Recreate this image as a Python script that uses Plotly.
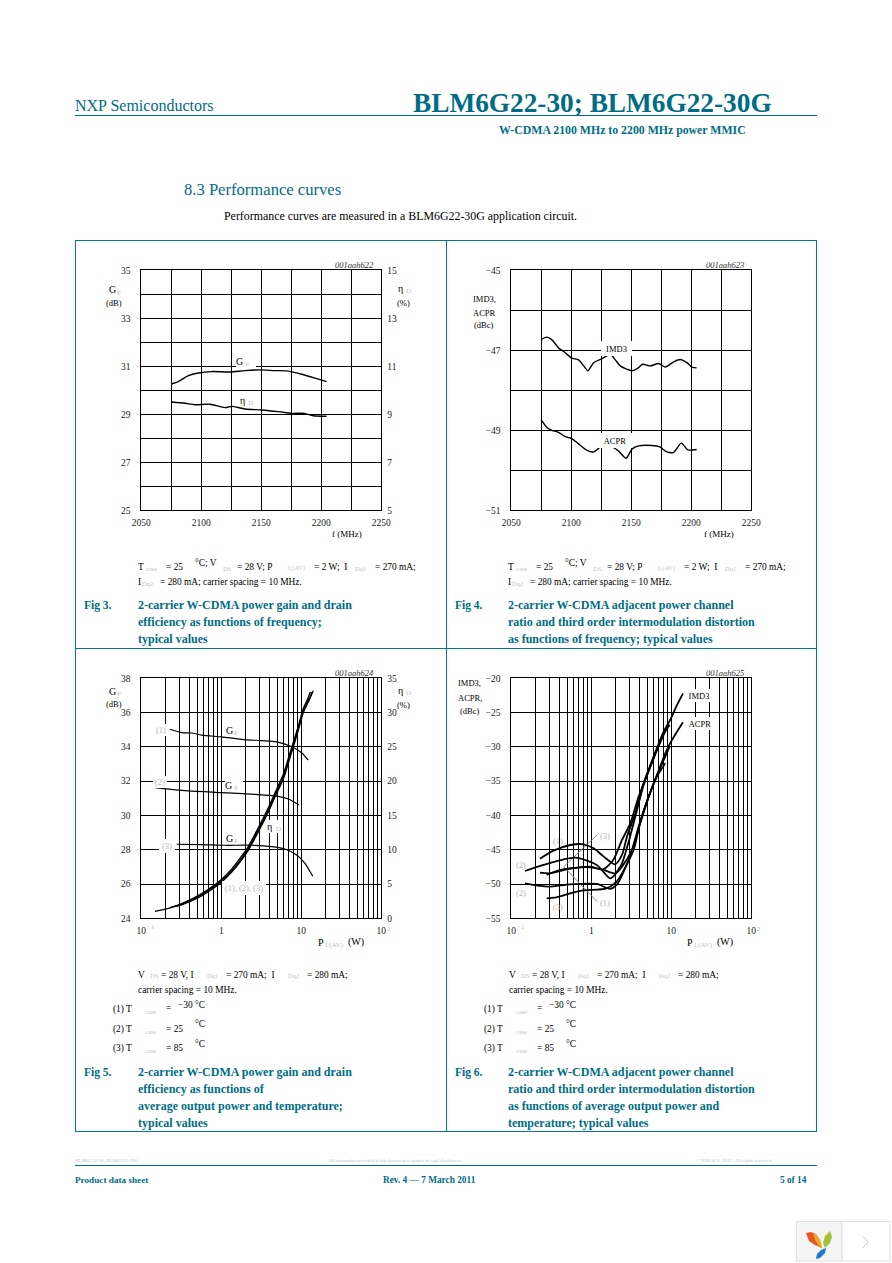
import plotly.graph_objects as go

W, H = 892, 1263
TEAL = "#006d85"
FRAME = "#007a93"
FAINT = "#c4c4c4"
SERIF = "Liberation Serif"

# ---------- Fig 3 ----------
f3_x = [2075, 2080.8, 2089.2, 2097.5, 2108.6, 2123.9, 2136.4, 2148.9, 2161.4, 2171.1, 2183.6, 2194.7, 2204.4]
f3_gain = [30.26, 30.36, 30.61, 30.72, 30.78, 30.76, 30.82, 30.85, 30.82, 30.81, 30.67, 30.51, 30.36]
f3_eta_x = [2075, 2086.4, 2094.7, 2107.2, 2119.7, 2125.3, 2136.4, 2150.3, 2164.2, 2175.3, 2185.8, 2193.3, 2204.4]
f3_eta = [9.51, 9.46, 9.40, 9.42, 9.28, 9.33, 9.22, 9.18, 9.11, 9.04, 9.04, 8.94, 8.92]

# ---------- Fig 4 ----------
f4_imd_x = [2075, 2079.7, 2083.9, 2089.4, 2095, 2100, 2106.1, 2110.3, 2113.9, 2118.6, 2125.6, 2132.5, 2136.7,
            2140.8, 2150.6, 2155.3, 2159.4, 2165.8, 2172.8, 2178.3, 2185.3, 2190.8, 2196.4, 2200.6, 2204.4]
f4_imd = [-46.73, -46.67, -46.74, -46.94, -47.06, -47.19, -47.24, -47.39, -47.51, -47.31, -47.21, -47.10, -47.24,
          -47.39, -47.51, -47.45, -47.35, -47.39, -47.33, -47.42, -47.29, -47.23, -47.31, -47.42, -47.44]
f4_acpr_x = [2075, 2079.7, 2083.9, 2089.4, 2095, 2100, 2106.1, 2113, 2118.6, 2125.6, 2132.5, 2139.4, 2145.6,
             2150.6, 2156.1, 2167.2, 2173.3, 2179.7, 2185.3, 2191.7, 2197, 2204.4]
f4_acpr = [-48.74, -48.93, -49.0, -49.05, -49.16, -49.2, -49.34, -49.5, -49.54, -49.39, -49.39, -49.52, -49.7,
           -49.47, -49.39, -49.38, -49.41, -49.54, -49.55, -49.32, -49.49, -49.48]

# ---------- Fig 5 ----------
f5_g1_x = [0.228, 0.319, 0.426, 0.567, 1.01, 1.79, 3.19, 4.92, 7.57, 10.1, 12.2]
f5_g1 = [35.03, 34.83, 34.81, 34.69, 34.58, 34.44, 34.36, 34.29, 34.01, 33.66, 33.22]
f5_g2_x = [0.148, 0.218, 0.387, 1.01, 2.63, 4.69, 6.88, 9.35]
f5_g2 = [31.62, 31.53, 31.43, 31.33, 31.23, 31.14, 30.96, 30.61]
f5_g3_x = [0.277, 0.567, 1.11, 2.39, 4.26, 6.25, 8.75, 11.1, 13.9]
f5_g3 = [28.32, 28.30, 28.26, 28.26, 28.18, 28.04, 27.69, 27.21, 26.45]
f5_e1_x = [0.228, 0.319, 0.516, 0.757, 1.01, 1.35, 1.79, 2.18, 2.90, 3.87, 4.69, 5.96, 7.57, 9.17, 10.6, 12.0, 13.0]
f5_e1 = [1.55, 2.15, 3.3, 4.55, 5.7, 7.2, 9.05, 10.5, 13.2, 16.1, 18.3, 21.0, 24.9, 28.0, 30.6, 32.0, 33.0]
f5_e2_x = [0.148, 0.218, 0.319, 0.516, 0.757, 1.01, 1.35, 1.79, 2.18, 2.90, 3.87, 4.69, 5.96, 7.57, 9.17, 10.6, 12.2, 13.7]
f5_e2 = [1.02, 1.46, 2.04, 3.16, 4.37, 5.49, 6.95, 8.75, 10.2, 12.88, 15.8, 17.99, 20.66, 24.55, 27.71, 30.38, 31.74, 33.0]
f5_e3_x = [0.277, 0.319, 0.516, 0.757, 1.01, 1.35, 1.79, 2.18, 2.90, 3.87, 4.69, 5.96, 7.57, 9.17, 10.6, 12.2, 14.1]
f5_e3 = [1.75, 1.95, 3.0, 4.2, 5.3, 6.75, 8.5, 9.95, 12.6, 15.5, 17.7, 20.3, 24.2, 27.4, 30.0, 31.5, 33.2]

# ---------- Fig 6 ----------
f6_imd1_x = [0.228, 0.338, 0.546, 0.794, 1.07, 1.43, 1.98, 2.42, 2.79, 3.55, 4.51, 6.01, 8.02, 9.91, 11.8, 14.0]
f6_imd1 = [-46.30, -45.13, -44.31, -44.21, -44.79, -46.01, -47.13, -45.76, -43.09, -39.69, -35.31, -31.42, -27.78, -25.83, -23.89, -22.19]
f6_imd2_x = [0.148, 0.251, 0.625, 1.17, 1.71, 1.88, 2.42, 2.93, 3.55, 4.51, 6.01, 8.02, 9.27]
f6_imd2 = [-48.10, -47.22, -46.15, -47.22, -49.17, -48.93, -46.98, -43.82, -40.17, -35.56, -31.67, -28.12, -26.56]
f6_imd3_x = [0.228, 0.304, 0.492, 0.961, 1.41, 1.88, 2.42, 3.07, 3.91, 4.96, 6.62, 8.41, 9.53]
f6_imd3 = [-48.34, -48.44, -47.85, -47.47, -47.85, -46.49, -43.58, -41.15, -37.26, -34.10, -30.45, -27.78, -26.8]
f6_acpr1_x = [0.277, 0.410, 0.73, 0.97, 1.43, 2.0, 2.42, 3.22, 4.10, 5.21, 6.62, 8.41, 9.53]
f6_acpr1 = [-48.68, -47.95, -47.56, -47.56, -47.95, -48.44, -47.47, -45.03, -41.15, -37.26, -34.10, -31.42, -29.96]
f6_acpr2_x = [0.148, 0.290, 0.541, 1.17, 1.71, 2.07, 3.04, 3.91, 4.96, 6.62, 8.41]
f6_acpr2 = [-49.90, -50.38, -50.04, -49.99, -50.72, -50.14, -46.01, -41.63, -37.99, -34.34, -32.40]
f6_acpr3_x = [0.277, 0.352, 0.721, 1.55, 2.07, 3.38, 4.10, 5.21, 6.62, 8.41, 9.91, 11.8, 14.0]
f6_acpr3 = [-52.08, -51.99, -51.01, -50.63, -49.65, -45.03, -40.90, -37.26, -34.10, -30.94, -29.24, -27.78, -26.42]
f6_lead_x = [1.18, 0.451, 1.18]
f6_lead = [-42.85, -47.47, -52.57]

# ---------- Axis ticks ----------
freq_ticks = [2050, 2100, 2150, 2200, 2250]
freq_text = ["2050", "2100", "2150", "2200", "2250"]
freq_minor = [2075, 2125, 2175, 2225]
gain3_ticks = [25, 27, 29, 31, 33, 35]
gain3_text = ["25", "27", "29", "31", "33", "35"]
gain3_minor = [26, 28, 30, 32, 34]
eta3_ticks = [5, 7, 9, 11, 13, 15]
eta3_text = ["5", "7", "9", "11", "13", "15"]
dist4_ticks = [-51, -49, -47, -45]
dist4_text = ["−51", "−49", "−47", "−45"]
dist4_minor = [-50, -48, -46]
log_ticks = [0.1, 1, 10, 100]
log_text = ["10", "1", "10", "10"]
log_minor = [0.2, 0.3, 0.4, 0.5, 0.6, 0.7, 0.8, 0.9, 2, 3, 4, 5, 6, 7, 8, 9, 20, 30, 40, 50, 60, 70, 80, 90]
gain5_ticks = [24, 26, 28, 30, 32, 34, 36, 38]
gain5_text = ["24", "26", "28", "30", "32", "34", "36", "38"]
eta5_ticks = [0, 5, 10, 15, 20, 25, 30, 35]
eta5_text = ["0", "5", "10", "15", "20", "25", "30", "35"]
dist6_ticks = [-55, -50, -45, -40, -35, -30, -25, -20]
dist6_text = ["−55", "−50", "−45", "−40", "−35", "−30", "−25", "−20"]

fig = go.Figure()


def curve(x, y, xa, ya, width=1.4, color="black", spline=True):
    line = dict(color=color, width=width)
    if spline:
        line.update(shape="spline", smoothing=0.7)
    fig.add_trace(go.Scatter(x=x, y=y, xaxis=xa, yaxis=ya, mode="lines", line=line,
                             hoverinfo="skip", showlegend=False))


curve(f3_x, f3_gain, "x", "y")
curve(f3_eta_x, f3_eta, "x", "y2")
curve(f4_imd_x, f4_imd, "x2", "y3")
curve(f4_acpr_x, f4_acpr, "x2", "y3")
for a, b in [(f5_g1_x, f5_g1), (f5_g2_x, f5_g2), (f5_g3_x, f5_g3)]:
    curve(a, b, "x3", "y4", 1.2)
for a, b in [(f5_e1_x, f5_e1), (f5_e2_x, f5_e2), (f5_e3_x, f5_e3)]:
    curve(a, b, "x3", "y5", 1.3)
curve(f6_lead_x, f6_lead, "x4", "y6", 1, "#8a8a8a", False)
for a, b in [(f6_imd1_x, f6_imd1), (f6_imd2_x, f6_imd2), (f6_imd3_x, f6_imd3),
             (f6_acpr1_x, f6_acpr1), (f6_acpr2_x, f6_acpr2), (f6_acpr3_x, f6_acpr3)]:
    curve(a, b, "x4", "y6", 1.8)


def dx(l):
    return [l / W, (l + 240) / W]


def dy(t):
    return [1 - (t + 240) / H, 1 - t / H]


TF = dict(family=SERIF, size=9.5, color="#222")
base = dict(showgrid=True, gridcolor="black", gridwidth=1, zeroline=False, showline=True, linecolor="black",
            linewidth=1, mirror=True, ticks="", ticklen=0, tickfont=TF, tickmode="array", tickangle=0,
            automargin=False)


def minor(vals):
    return dict(tickmode="array", tickvals=vals, showgrid=True, gridcolor="black", gridwidth=1, griddash="solid",
                ticks="", ticklen=0)


def xax(left, vals, text, anchor, mn=None, **kw):
    d = dict(base, domain=dx(left), anchor=anchor, tickvals=vals, ticktext=text, ticklabelstandoff=3, **kw)
    if mn:
        d["minor"] = minor(mn)
    return d


def yax(top, vals, text, anchor, mn=None, **kw):
    d = dict(base, domain=dy(top), anchor=anchor, tickvals=vals, ticktext=text, ticklabelstandoff=8, **kw)
    if mn:
        d["minor"] = minor(mn)
    return d


def rax(top, vals, text, anchor, over, rng):
    return dict(domain=dy(top), anchor=anchor, overlaying=over, side="right", range=rng, showgrid=False,
                zeroline=False, showline=False, ticks="", ticklen=0, tickfont=TF, tickmode="array",
                tickvals=vals, ticktext=text, ticklabelstandoff=5, automargin=False)


LX, RX, TT, BT = 141.3, 511.3, 270.3, 678.3
layout_axes = dict(
    xaxis=xax(LX, freq_ticks, freq_text, "y", freq_minor, range=[2050, 2250]),
    yaxis=yax(TT, gain3_ticks, gain3_text, "x", gain3_minor, range=[25, 35]),
    yaxis2=rax(TT, eta3_ticks, eta3_text, "x", "y", [5, 15]),
    xaxis2=xax(RX, freq_ticks, freq_text, "y3", freq_minor, range=[2050, 2250]),
    yaxis3=yax(TT, dist4_ticks, dist4_text, "x2", dist4_minor, range=[-51, -45]),
    xaxis3=xax(LX, log_ticks, log_text, "y4", log_minor, type="log", range=[-1, 2]),
    yaxis4=yax(BT, gain5_ticks, gain5_text, "x3", range=[24, 38]),
    yaxis5=rax(BT, eta5_ticks, eta5_text, "x3", "y4", [0, 35]),
    xaxis4=xax(RX, log_ticks, log_text, "y6", log_minor, type="log", range=[-1, 2]),
    yaxis6=yax(BT, dist6_ticks, dist6_text, "x4", range=[-55, -20]),
)

ann = []
shapes = []


def txt(x, y, s, size=10, color="black", bold=False, anchor="left", italic=False, box=None, align=None):
    if bold:
        s = "<b>" + s + "</b>"
    if italic:
        s = "<i>" + s + "</i>"
    d = dict(xref="paper", yref="paper", x=x / W, y=1 - y / H, text=s, showarrow=False, xanchor=anchor,
             yanchor="middle", align=anchor, borderpad=0, borderwidth=0,
             font=dict(family=SERIF, size=size, color=color))
    if box:
        d.update(width=box[0], height=box[1], bgcolor="white", xanchor="center", align=align or "center")
    ann.append(d)


def sym(x, y, main, sub, box=None):
    """Symbol with a faint subscript; x is the left edge of the symbol."""
    if box:
        txt(x - 1 + box[0] / 2, y, main, 10, box=box, align="left")
    else:
        txt(x, y, main, 10)
    txt(x + 8, y + 3, sub, 7, FAINT)


def rule(x0, y0, x1, y1, color=FRAME, w=1):
    shapes.append(dict(type="line", xref="paper", yref="paper", x0=x0 / W, x1=x1 / W, y0=1 - y0 / H, y1=1 - y1 / H,
                       line=dict(color=color, width=w), layer="below"))


# page furniture
txt(75, 105, "NXP Semiconductors", 16, TEAL)
txt(413, 103, "BLM6G22-30; BLM6G22-30G", 27.3, TEAL, True)
txt(746, 130, "W-CDMA 2100 MHz to 2200 MHz power MMIC", 11.8, TEAL, True, anchor="right")
txt(184, 190, "8.3 Performance curves", 16.6, TEAL)
txt(224, 216, "Performance curves are measured in a BLM6G22-30G application circuit.", 11.9)
rule(75, 115.5, 817, 115.5, TEAL)
rule(75, 240.5, 817, 240.5)
rule(75, 1131.5, 817, 1131.5)
rule(75.5, 240, 75.5, 1132)
rule(816.5, 240, 816.5, 1132)
rule(446.5, 240, 446.5, 1132)
rule(75, 648.5, 817, 648.5)
rule(75, 1165.5, 817, 1165.5, TEAL)
txt(75, 1160, "BLM6G22-30_BLM6G22-30G", 5, FAINT)
txt(328, 1160, "All information provided in this document is subject to legal disclaimers.", 4.6, FAINT)
txt(696, 1160, "© NXP B.V. 2011. All rights reserved.", 5, FAINT)
txt(75, 1180, "Product data sheet", 9.2, TEAL, True)
txt(383, 1180, "Rev. 4 — 7 March 2011", 9.3, TEAL, True)
txt(780, 1180, "5 of 14", 9.3, TEAL, True)

# chart ids and axis titles
for x, y, s in [(335, 265, "001aah622"), (706, 265, "001aah623"), (335, 673, "001aah624"), (706, 673, "001aah625")]:
    txt(x, y, s, 8.5, "#333", italic=True)
sym(109, 290, "G", "P")
txt(114, 303, "(dB)", 8.5, anchor="center")
sym(398, 288, "η", "D")
txt(403, 303, "(%)", 8.5, anchor="center")
txt(347, 534, "f (MHz)", 9, anchor="center")
txt(719, 534, "f (MHz)", 9, anchor="center")
txt(484, 299, "IMD3,", 8.5, anchor="center")
txt(484, 313, "ACPR", 8.5, anchor="center")
txt(484, 325, "(dBc)", 8.5, anchor="center")
sym(109, 691, "G", "P")
txt(114, 704, "(dB)", 8.5, anchor="center")
sym(398, 690, "η", "D")
txt(403, 705, "(%)", 8.5, anchor="center")
for p_x in (318, 687):
    txt(p_x, 942, "P", 10)
    txt(p_x + 7, 945, "L(AV)", 7, FAINT)
    txt(p_x + 30, 942, "(W)", 10)
txt(470, 683, "IMD3,", 8.5, anchor="center")
txt(470, 698, "ACPR,", 8.5, anchor="center")
txt(470, 711, "(dBc)", 8.5, anchor="center")

# exponents on the logarithmic axes
for o in (0, 370):
    txt(147 + o, 927, "−1", 7, "#bdbdbd")
    txt(387 + o, 929, "2", 7, "#bdbdbd")

# curve labels
GR = "#b5b5b5"
sym(237, 361, "G", "P", box=(20, 14))
sym(240, 400, "η", "D")
txt(616, 348, "IMD3", 8.5, box=(31, 15))
txt(615, 440, "ACPR", 8.5, box=(34, 15))
txt(161, 730, "(1)", 8.5, GR, box=(14, 12))
txt(160, 782, "(2)", 8.5, GR, box=(14, 12))
txt(167, 846, "(3)", 8.5, GR, box=(16, 14))
sym(226, 730, "G", "P")
sym(226, 785, "G", "P", box=(18, 13))
sym(226, 838, "G", "P")
sym(268, 826, "η", "D", box=(15, 13))
txt(244, 888, "(1), (2), (3)", 8.5, GR, box=(44, 14))
txt(699, 695, "IMD3", 8.5, box=(30, 13))
txt(700, 724, "ACPR", 8.5, box=(30, 13))
for x, y, s in [(558, 841, "(1)"), (605, 836, "(3)"), (521, 865, "(2)"), (521, 893, "(2)"), (605, 903, "(1)"), (558, 907, "(3)")]:
    txt(x, y, s, 8.5, GR, anchor="center")

# condition lines
CS = 9.4
for o in (0, 370):
    for x, y, s, c, z in [(138, 567, "T", "black", CS), (146, 568, "case", FAINT, 6.5), (166, 567, "= 25", "black", CS),
                          (195, 563, "°C; V", "black", CS), (223, 568, "DS", FAINT, 6.5),
                          (237, 567, "= 28 V; P", "black", CS), (288, 568, "L(AV)", FAINT, 6.5),
                          (314, 567, "= 2 W;  I", "black", CS), (355, 568, "Dq1", FAINT, 6.5),
                          (375, 567, "= 270 mA;", "black", CS), (138, 582, "I", "black", CS),
                          (142, 583, "Dq2", FAINT, 6.5), (160, 582, "= 280 mA; carrier spacing = 10 MHz.", "black", CS)]:
        txt(x + o, y, s, z, c)
for o in (0, 371):
    for x, y, s, c, z in [(138, 975, "V", "black", CS), (150, 976, "DS", FAINT, 6.5), (161, 975, "= 28 V, I", "black", CS),
                          (207, 976, "Dq1", FAINT, 6.5), (226, 975, "= 270 mA;  I", "black", CS),
                          (288, 976, "Dq2", FAINT, 6.5), (307, 975, "= 280 mA;", "black", CS),
                          (138, 990, "carrier spacing = 10 MHz.", "black", CS),
                          (113, 1009, "(1) T", "black", CS), (145, 1011, "case", FAINT, 6.5), (166, 1008, "=", "black", CS),
                          (178, 1005, "−30 °C", "black", CS),
                          (113, 1029, "(2) T", "black", CS), (145, 1031, "case", FAINT, 6.5), (166, 1029, "= 25", "black", CS),
                          (195, 1024, "°C", "black", CS),
                          (113, 1048, "(3) T", "black", CS), (145, 1050, "case", FAINT, 6.5), (166, 1048, "= 85", "black", CS),
                          (195, 1044, "°C", "black", CS)]:
        txt(x + o, y, s, z, c)

# captions
CAP = 12
for x0, x1, ys, lab, lines in [
    (84, 138, [605, 622, 639], "Fig 3.", ["2-carrier W-CDMA power gain and drain", "efficiency as functions of frequency;", "typical values"]),
    (455, 508, [605, 622, 639], "Fig 4.", ["2-carrier W-CDMA adjacent power channel", "ratio and third order intermodulation distortion", "as functions of frequency; typical values"]),
    (84, 138, [1072, 1089, 1106, 1123], "Fig 5.", ["2-carrier W-CDMA power gain and drain", "efficiency as functions of", "average output power and temperature;", "typical values"]),
    (455, 508, [1072, 1089, 1106, 1123], "Fig 6.", ["2-carrier W-CDMA adjacent power channel", "ratio and third order intermodulation distortion", "as functions of average output power and", "temperature; typical values"]),
]:
    txt(x0, ys[0], lab, 11.5, TEAL, True)
    for y, s in zip(ys, lines):
        txt(x1, y, s, CAP, TEAL, True)


# widget at lower right
def path(points, fill, line=None):
    d = "M" + " L".join("%.5f,%.5f" % (x / W, 1 - y / H) for x, y in points) + " Z"
    shapes.append(dict(type="path", xref="paper", yref="paper", path=d, fillcolor=fill,
                       line=dict(color=line or fill, width=1 if line else 0)))


path([(796.5, 1221.5), (842, 1221.5), (842, 1261), (796.5, 1261)], "#f5f5f5", "#e0e0e0")
path([(842, 1221.5), (890, 1221.5), (890, 1261), (842, 1261)], "#ffffff", "#e0e0e0")
path([(806, 1233), (811, 1232), (816, 1234), (820, 1240), (822, 1248), (815, 1245), (809, 1241)], "#e8571f")
path([(813, 1233), (816, 1234), (820, 1240), (822, 1248), (818, 1245), (815, 1240)], "#f3a52c")
path([(830, 1231), (832, 1237), (830, 1243), (825, 1248), (823, 1243), (825, 1236)], "#a3c43a")
path([(826, 1248), (825, 1253), (820, 1258), (816, 1259), (817, 1254), (821, 1250)], "#1f78c8")
shapes.append(dict(type="path", xref="paper", yref="paper", fillcolor="rgba(0,0,0,0)",
                   path="M%.5f,%.5f L%.5f,%.5f L%.5f,%.5f" % (863 / W, 1 - 1236 / H, 868 / W, 1 - 1242 / H, 863 / W, 1 - 1248 / H),
                   line=dict(color="#c8c8c8", width=1)))

fig.update_layout(template="none", width=W, height=H, margin=dict(l=0, r=0, t=0, b=0, pad=0), autosize=False,
                  paper_bgcolor="white", plot_bgcolor="white",
                  showlegend=False, annotations=ann, shapes=shapes, font=dict(family=SERIF), **layout_axes)

fig.write_html("out.html", config=dict(displayModeBar=False, responsive=False),
               post_script="document.body.style.margin='0';document.documentElement.style.overflow='hidden';")
